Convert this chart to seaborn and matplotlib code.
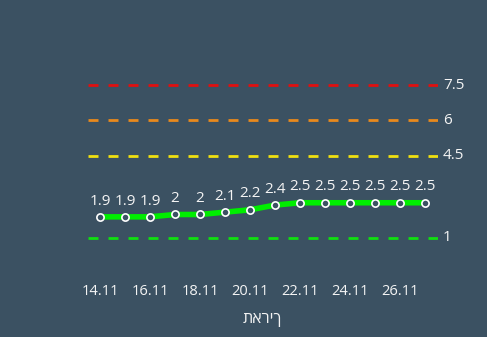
import matplotlib
matplotlib.use("Agg")
import matplotlib.pyplot as plt
import seaborn as sns
import pandas as pd

dates = ["14.11", "15.11", "16.11", "17.11", "18.11", "19.11", "20.11",
         "21.11", "22.11", "23.11", "24.11", "25.11", "26.11", "27.11"]
values = [1.9, 1.9, 1.9, 2, 2, 2.1, 2.2, 2.4, 2.5, 2.5, 2.5, 2.5, 2.5, 2.5]
thresholds = [7.5, 6, 4.5, 1]
threshold_labels = ["7.5", "6", "4.5", "1"]
threshold_colors = ["#e01010", "#e8891c", "#f0e010", "#10e010"]
x_label = "תאריך"

BG = "#3b5162"
TXT = "#f4f4f4"

sns.set_theme(style="white")
plt.rcParams['font.family'] = ['Open Sans', 'DejaVu Sans']

fig = plt.figure(figsize=(4.87, 3.37), dpi=100, facecolor=BG)
W, H = 487, 337
left, right, top, bottom = 87.5, 437.5, 60, 265
ax = fig.add_axes([left / W, 1 - bottom / H, (right - left) / W, (bottom - top) / H])
ax.set_facecolor(BG)

df = pd.DataFrame({"idx": range(len(dates)), "value": values})

for t, c in zip(thresholds, threshold_colors):
    ax.axhline(t, color=c, lw=2, dashes=(3.6, 3.6), zorder=1)

sns.lineplot(data=df, x="idx", y="value", ax=ax, color="#00ee00", lw=4,
             marker="o", markersize=5.2, markerfacecolor=BG, markeredgecolor="white",
             markeredgewidth=1.2, zorder=3)

for i, v in enumerate(values):
    ax.annotate(f"{v:g}", (i, v), xytext=(0, 6), textcoords="offset points",
                ha="center", va="bottom", color=TXT, fontsize=11)

for t, lab in zip(thresholds, threshold_labels):
    ax.annotate(lab, (13.5, t), xytext=(4, 0), textcoords="offset points",
                ha="left", va="center", color=TXT, fontsize=11,
                annotation_clip=False)

ax.set_xlim(-0.5, 13.5)
ax.set_ylim(-0.149, 8.574)
ax.set_xticks(list(range(0, len(dates), 2)))
ax.set_xticklabels(dates[::2], color=TXT, fontsize=10.5)
ax.tick_params(axis="x", length=0, pad=14)
ax.set_yticks([])
ax.set_ylabel("")
ax.set_xlabel(x_label, color=TXT, fontsize=11.5, labelpad=8)
for s in ax.spines.values():
    s.set_visible(False)

fig.savefig("out.png", dpi=100, facecolor=BG)
